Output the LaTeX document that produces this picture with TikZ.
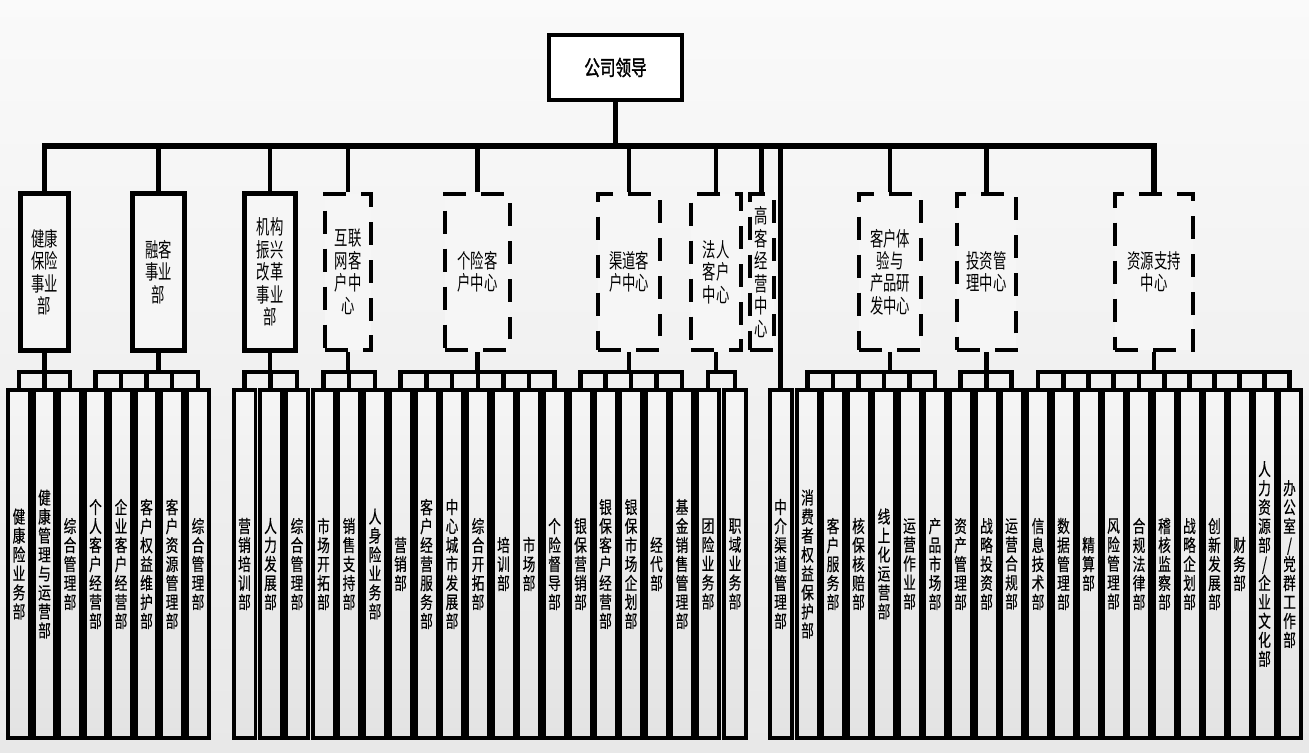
\documentclass[tikz,border=0pt]{standalone}
\usepackage{fontspec}
\setmainfont{Noto Sans CJK SC}
\newfontfamily\leadfont[FakeStretch=0.74,FakeBold=1.5]{Noto Sans CJK SC}
\newfontfamily\unitfont[FakeStretch=0.66]{Noto Sans CJK SC}
\newfontfamily\deptfont[FakeStretch=0.72,FakeBold=0.4]{Noto Sans CJK SC}
\usepackage{tikz}
\definecolor{orgline}{RGB}{0,0,0}
\definecolor{orgfill}{RGB}{246,246,246}
\tikzset{
  lead/.style ={draw=orgline, line width=0.09cm, fill=white, minimum width=2.66cm, minimum height=1.3cm, inner sep=0pt, font=\leadfont\fontsize{12pt}{14pt}\selectfont},
  unit/.style ={draw=orgline, line width=0.1cm, fill=orgfill, minimum height=3.14cm, inner sep=0pt, align=center, font=\unitfont\fontsize{11.5pt}{12.8pt}\selectfont},
  unitd/.style={unit, line width=0.08cm, dash pattern=on 0.46cm off 0.3cm},
  dept/.style ={draw=orgline, line width=0.08cm, top color=black!4, bottom color=black!11, minimum width=0.44cm, minimum height=6.96cm, inner sep=0pt, align=center, font=\deptfont\fontsize{10pt}{10.8pt}\selectfont},
  bus/.style  ={draw=orgline, line width=0.12cm},
  lnk/.style  ={draw=orgline, line width=0.09cm},
}
\begin{document}
\begin{tikzpicture}[x=0.02cm,y=-0.02cm]
  \useasboundingbox (0,0) rectangle (1309,752);
  \shade[top color=black!2,bottom color=black!9] (0,0) rectangle (1309,752);
  \coordinate (bus) at (0,146);
  \coordinate (sub) at (0,372);
  % top
  \node[lead] (lead) at (615.5,67.5) {公司领导};
  % second level
  \node[unit,minimum width=0.96cm] (jk) at (44.5,272) {健康\\保险\\事业\\部};
  \node[unit,minimum width=1.04cm] (rk) at (158.5,272) {融客\\事业\\部};
  \node[unit,minimum width=1.02cm] (jg) at (270,272) {机构\\振兴\\改革\\事业\\部};
  \node[unitd,minimum width=0.92cm] (hl) at (348,272) {互联\\网客\\户中\\心};
  \node[unitd,minimum width=1.3cm] (gx) at (477.5,272) {个险客\\户中心};
  \node[unitd,minimum width=1.24cm] (qd) at (629,272) {渠道客\\户中心};
  \node[unitd,minimum width=1.0cm] (fr) at (716,272) {法人\\客户\\中心};
  \node[unitd,minimum width=0.48cm] (gk) at (761.5,272) {高\\客\\经\\营\\中\\心};
  \node[unitd,minimum width=1.24cm] (ty) at (890,272) {客户体\\验与\\产品研\\发中心};
  \node[unitd,minimum width=1.18cm] (tz) at (986.5,272) {投资管\\理中心};
  \node[unitd,minimum width=1.56cm] (zy) at (1154,272) {资源支持\\中心};
  % departments
  \node[dept] (jk1) at (19,564) {健\\康\\险\\业\\务\\部};
  \node[dept] (jk2) at (44.5,564) {健\\康\\管\\理\\与\\运\\营\\部};
  \node[dept] (jk3) at (70,564) {综\\合\\管\\理\\部};
  \node[dept] (rk1) at (95.5,564) {个\\人\\客\\户\\经\\营\\部};
  \node[dept] (rk2) at (121,564) {企\\业\\客\\户\\经\\营\\部};
  \node[dept] (rk3) at (146.5,564) {客\\户\\权\\益\\维\\护\\部};
  \node[dept] (rk4) at (172,564) {客\\户\\资\\源\\管\\理\\部};
  \node[dept] (rk5) at (198,564) {综\\合\\管\\理\\部};
  \node[dept] (jg1) at (244.5,564) {营\\销\\培\\训\\部};
  \node[dept] (jg2) at (270.5,564) {人\\力\\发\\展\\部};
  \node[dept] (jg3) at (297,564) {综\\合\\管\\理\\部};
  \node[dept] (hl1) at (323.5,564) {市\\场\\开\\拓\\部};
  \node[dept] (hl2) at (349,564) {销\\售\\支\\持\\部};
  \node[dept] (hl3) at (375,564) {人\\身\\险\\业\\务\\部};
  \node[dept] (gx1) at (400.5,564) {营\\销\\部};
  \node[dept] (gx2) at (426.5,564) {客\\户\\经\\营\\服\\务\\部};
  \node[dept] (gx3) at (452,564) {中\\心\\城\\市\\发\\展\\部};
  \node[dept] (gx4) at (478,564) {综\\合\\开\\拓\\部};
  \node[dept] (gx5) at (503.5,564) {培\\训\\部};
  \node[dept] (gx6) at (529,564) {市\\场\\部};
  \node[dept] (gx7) at (554.5,564) {个\\险\\督\\导\\部};
  \node[dept] (qd1) at (580.5,564) {银\\保\\营\\销\\部};
  \node[dept] (qd2) at (605.5,564) {银\\保\\客\\户\\经\\营\\部};
  \node[dept] (qd3) at (631,564) {银\\保\\市\\场\\企\\划\\部};
  \node[dept] (qd4) at (656.5,564) {经\\代\\部};
  \node[dept] (qd5) at (682,564) {基\\金\\销\\售\\管\\理\\部};
  \node[dept] (fr1) at (708,564) {团\\险\\业\\务\\部};
  \node[dept] (fr2) at (735,564) {职\\域\\业\\务\\部};
  \node[dept] (zj) at (780.5,564) {中\\介\\渠\\道\\管\\理\\部};
  \node[dept] (ty1) at (807.5,564) {消\\费\\者\\权\\益\\保\\护\\部};
  \node[dept] (ty2) at (833,564) {客\\户\\服\\务\\部};
  \node[dept] (ty3) at (858.5,564) {核\\保\\核\\赔\\部};
  \node[dept] (ty4) at (884,564) {线\\上\\化\\运\\营\\部};
  \node[dept] (ty5) at (909.5,564) {运\\营\\作\\业\\部};
  \node[dept] (ty6) at (935,564) {产\\品\\市\\场\\部};
  \node[dept] (tz1) at (960.5,564) {资\\产\\管\\理\\部};
  \node[dept] (tz2) at (986.5,564) {战\\略\\投\\资\\部};
  \node[dept] (tz3) at (1011.5,564) {运\\营\\合\\规\\部};
  \node[dept] (zy1) at (1038,564) {信\\息\\技\\术\\部};
  \node[dept] (zy2) at (1063.5,564) {数\\据\\管\\理\\部};
  \node[dept] (zy3) at (1088.5,564) {精\\算\\部};
  \node[dept] (zy4) at (1113.5,564) {风\\险\\管\\理\\部};
  \node[dept] (zy5) at (1139,564) {合\\规\\法\\律\\部};
  \node[dept] (zy6) at (1164.5,564) {稽\\核\\监\\察\\部};
  \node[dept] (zy7) at (1189.5,564) {战\\略\\企\\划\\部};
  \node[dept] (zy8) at (1214.5,564) {创\\新\\发\\展\\部};
  \node[dept] (zy9) at (1239.5,564) {财\\务\\部};
  \node[dept] (zy10) at (1264.5,564) {人\\力\\资\\源\\部\\/\\企\\业\\文\\化\\部};
  \node[dept] (zy11) at (1289.5,564) {办\\公\\室\\/\\党\\群\\工\\作\\部};
  % main bus
  \draw[lnk] (lead.south) -- (lead.south |- bus);
  \draw[bus] (jk.north) |- (zy.north |- bus) -- (zy.north);
  \draw[lnk] (rk.north) -- (rk.north |- bus);
  \draw[lnk] (jg.north) -- (jg.north |- bus);
  \draw[lnk] (hl.north) -- (hl.north |- bus);
  \draw[lnk] (gx.north) -- (gx.north |- bus);
  \draw[lnk] (qd.north) -- (qd.north |- bus);
  \draw[lnk] (fr.north) -- (fr.north |- bus);
  \draw[lnk] (gk.north) -- (gk.north |- bus);
  \draw[lnk] (zj.north) -- (zj.north |- bus);
  \draw[lnk] (ty.north) -- (ty.north |- bus);
  \draw[lnk] (tz.north) -- (tz.north |- bus);
  % health
  \draw[lnk] (jk.south) -- (jk.south |- sub);
  \draw[lnk] (jk1.north) |- (jk3.north |- sub) -- (jk3.north);
  \draw[lnk] (jk2.north) -- (jk2.north |- sub);
  % rongke
  \draw[lnk] (rk.south) -- (rk.south |- sub);
  \draw[lnk] (rk1.north) |- (rk5.north |- sub) -- (rk5.north);
  \draw[lnk] (rk2.north) -- (rk2.north |- sub);
  \draw[lnk] (rk3.north) -- (rk3.north |- sub);
  \draw[lnk] (rk4.north) -- (rk4.north |- sub);
  % jigou
  \draw[lnk] (jg.south) -- (jg.south |- sub);
  \draw[lnk] (jg1.north) |- (jg3.north |- sub) -- (jg3.north);
  \draw[lnk] (jg2.north) -- (jg2.north |- sub);
  % hulian
  \draw[lnk] (hl.south) -- (hl.south |- sub);
  \draw[lnk] (hl1.north) |- (hl3.north |- sub) -- (hl3.north);
  \draw[lnk] (hl2.north) -- (hl2.north |- sub);
  % gexian
  \draw[lnk] (gx.south) -- (gx.south |- sub);
  \draw[lnk] (gx1.north) |- (gx7.north |- sub) -- (gx7.north);
  \draw[lnk] (gx2.north) -- (gx2.north |- sub);
  \draw[lnk] (gx3.north) -- (gx3.north |- sub);
  \draw[lnk] (gx4.north) -- (gx4.north |- sub);
  \draw[lnk] (gx5.north) -- (gx5.north |- sub);
  \draw[lnk] (gx6.north) -- (gx6.north |- sub);
  % qudao
  \draw[lnk] (qd.south) -- (qd.south |- sub);
  \draw[lnk] (qd1.north) |- (qd5.north |- sub) -- (qd5.north);
  \draw[lnk] (qd2.north) -- (qd2.north |- sub);
  \draw[lnk] (qd3.north) -- (qd3.north |- sub);
  \draw[lnk] (qd4.north) -- (qd4.north |- sub);
  % faren
  \draw[lnk] (fr.south) -- (fr.south |- sub);
  \draw[lnk] (fr1.north) |- (fr2.north |- sub) -- (fr2.north);
  % tiyan
  \draw[lnk] (ty.south) -- (ty.south |- sub);
  \draw[lnk] (ty1.north) |- (ty6.north |- sub) -- (ty6.north);
  \draw[lnk] (ty2.north) -- (ty2.north |- sub);
  \draw[lnk] (ty3.north) -- (ty3.north |- sub);
  \draw[lnk] (ty4.north) -- (ty4.north |- sub);
  \draw[lnk] (ty5.north) -- (ty5.north |- sub);
  % touzi
  \draw[lnk] (tz.south) -- (tz.south |- sub);
  \draw[lnk] (tz1.north) |- (tz3.north |- sub) -- (tz3.north);
  \draw[lnk] (tz2.north) -- (tz2.north |- sub);
  % ziyuan
  \draw[lnk] (zy.south) -- (zy.south |- sub);
  \draw[lnk] (zy1.north) |- (zy11.north |- sub) -- (zy11.north);
  \draw[lnk] (zy2.north) -- (zy2.north |- sub);
  \draw[lnk] (zy3.north) -- (zy3.north |- sub);
  \draw[lnk] (zy4.north) -- (zy4.north |- sub);
  \draw[lnk] (zy5.north) -- (zy5.north |- sub);
  \draw[lnk] (zy6.north) -- (zy6.north |- sub);
  \draw[lnk] (zy7.north) -- (zy7.north |- sub);
  \draw[lnk] (zy8.north) -- (zy8.north |- sub);
  \draw[lnk] (zy9.north) -- (zy9.north |- sub);
  \draw[lnk] (zy10.north) -- (zy10.north |- sub);
\end{tikzpicture}
\end{document}
